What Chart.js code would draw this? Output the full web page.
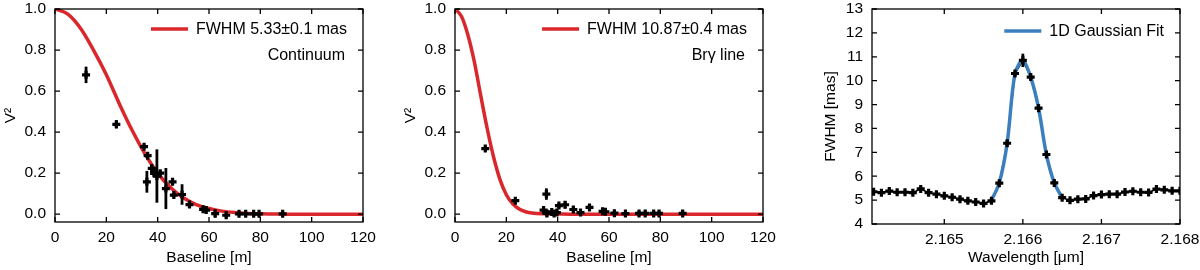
<!DOCTYPE html>
<html>
<head>
<meta charset="utf-8">
<script src="https://cdn.jsdelivr.net/npm/chart.js@4.4.1/dist/chart.umd.min.js"></script>
<style>
  body { margin: 0; background: #fff; width: 1200px; height: 270px; overflow: hidden; position: relative; }
  canvas { position: absolute; top: 0; }
</style>
</head>
<body>
<canvas id="c1" width="400" height="270" style="left:0"></canvas>
<canvas id="c2" width="400" height="270" style="left:400px"></canvas>
<canvas id="c3" width="400" height="270" style="left:800px"></canvas>
<script>
// Continuum visibilities
const contBaseline = [12.1, 23.9, 34.7, 36.1, 35.8, 37.7, 38.6, 39.7, 41.0, 43.2, 45.8, 46.3, 49.5, 52.4, 57.7, 58.9, 62.4, 66.7, 71.7, 74.3, 77.4, 79.5, 88.7];
const contV2 = [0.679, 0.438, 0.329, 0.285, 0.158, 0.223, 0.199, 0.186, 0.20, 0.125, 0.158, 0.093, 0.096, 0.047, 0.024, 0.02, 0.003, -0.005, 0.002, 0.002, 0.002, 0.002, 0.002];
const contErr = [0.04, 0.02, 0.01, 0.01, 0.053, 0.02, 0.015, 0.13, 0.01, 0.10, 0.01, 0.012, 0.05, 0.01, 0.01, 0.012, 0.02, 0.015, 0.01, 0.01, 0.01, 0.01, 0.012];

// Continuum model curve
const contFitB = [0, 5, 10, 15, 20, 25, 30, 35, 40, 45, 50, 55, 60, 65, 70, 75, 80, 85, 90, 100, 110, 120];
const contFitV2 = [1.0, 0.975, 0.905, 0.80, 0.68, 0.54, 0.41, 0.295, 0.20, 0.13, 0.08, 0.047, 0.028, 0.015, 0.008, 0.004, 0.002, 0.001, 0, 0, 0, 0];

// Br-gamma line visibilities
const brgBaseline = [11.8, 23.5, 34.5, 35.6, 35.8, 37.7, 38.6, 39.7, 40.5, 42.9, 46.1, 48.9, 52.4, 57.5, 58.6, 62.1, 66.4, 71.7, 74.1, 77.4, 79.5, 88.7];
const brgV2 = [0.320, 0.066, 0.02, 0.098, 0.004, 0.011, 0.004, 0.008, 0.042, 0.046, 0.023, 0.008, 0.033, 0.014, 0.012, 0.005, 0.003, 0.004, 0.004, 0.004, 0.004, 0.004];
const brgErr = [0.01, 0.008, 0.01, 0.028, 0.015, 0.01, 0.01, 0.012, 0.012, 0.018, 0.015, 0.012, 0.01, 0.01, 0.01, 0.015, 0.015, 0.012, 0.012, 0.012, 0.012, 0.015];

const brgFitB = [0, 2.5, 5, 7.5, 10, 12.5, 15, 17.5, 20, 22.5, 25, 27.5, 30, 35, 40, 45, 60, 80, 100, 120];
const brgFitV2 = [1.0, 0.965, 0.875, 0.745, 0.58, 0.42, 0.28, 0.17, 0.095, 0.05, 0.025, 0.012, 0.006, 0.002, 0.001, 0, 0, 0, 0, 0];

// FWHM vs wavelength
const wavelength = [2.1641, 2.1642, 2.1643, 2.1644, 2.1645, 2.1646, 2.1647, 2.1648, 2.1649, 2.1650,
  2.1651, 2.1652, 2.1653, 2.1654, 2.1655, 2.1656, 2.1657, 2.1658, 2.1659, 2.1660,
  2.1661, 2.1662, 2.1663, 2.1664, 2.1665, 2.1666, 2.1667, 2.1668, 2.1669, 2.1670,
  2.1671, 2.1672, 2.1673, 2.1674, 2.1675, 2.1676, 2.1677, 2.1678, 2.1679, 2.1680];
const fwhm = [5.35, 5.31, 5.38, 5.33, 5.33, 5.31, 5.47, 5.31, 5.25, 5.18,
  5.12, 5.04, 4.97, 4.92, 4.86, 4.97, 5.71, 7.38, 10.3, 10.85,
  10.15, 8.85, 6.91, 5.72, 5.10, 4.99, 5.04, 5.05, 5.19, 5.23,
  5.25, 5.25, 5.34, 5.37, 5.33, 5.32, 5.46, 5.43, 5.39, 5.39];
const fwhmErr = [0.08, 0.08, 0.08, 0.08, 0.08, 0.08, 0.08, 0.08, 0.08, 0.08,
  0.08, 0.08, 0.08, 0.08, 0.08, 0.08, 0.1, 0.12, 0.12, 0.28,
  0.12, 0.15, 0.1, 0.1, 0.08, 0.08, 0.08, 0.08, 0.08, 0.08,
  0.08, 0.08, 0.08, 0.08, 0.08, 0.08, 0.08, 0.08, 0.08, 0.08];

const gaussWave = [2.1656, 2.1657, 2.1658, 2.1659, 2.1660, 2.1661, 2.1662, 2.1663, 2.1664, 2.1665];
const gaussFwhm = [4.98, 5.72, 7.38, 10.3, 10.85, 10.15, 8.85, 6.9, 5.72, 5.1];

// tick labels
const baselineTicks = [0, 20, 40, 60, 80, 100, 120];
const v2Ticks = [0, 0.2, 0.4, 0.6, 0.8, 1.0];
const waveTicks = [2.165, 2.166, 2.167, 2.168];
const fwhmTicks = [4, 5, 6, 7, 8, 9, 10, 11, 12, 13];

const RED = '#d9272b';
const BLUE = '#3b7fbf';
const FONT = '"Liberation Sans", Arial, sans-serif';
const TICK_FONT = { family: FONT, size: 15.5 };
const TITLE_FONT = { family: FONT, size: 15.5 };

Chart.defaults.font.family = FONT;
Chart.defaults.color = '#000';

const pts = (xs, ys) => xs.map((x, i) => ({ x: x, y: ys[i] }));

// error bars from the yErr arrays
const errorBars = {
  id: 'errorBars',
  afterDatasetsDraw(chart) {
    const { ctx, chartArea: a } = chart;
    const y = chart.scales.y;
    chart.data.datasets.forEach((ds, i) => {
      if (!ds.yErr) return;
      const meta = chart.getDatasetMeta(i);
      ctx.save();
      ctx.beginPath();
      ctx.rect(a.left, a.top, a.right - a.left, a.bottom - a.top);
      ctx.clip();
      ctx.strokeStyle = '#000';
      ctx.lineWidth = 2.8;
      meta.data.forEach((p, j) => {
        const v = ds.data[j].y, e = ds.yErr[j];
        ctx.beginPath();
        ctx.moveTo(p.x, y.getPixelForValue(v - e));
        ctx.lineTo(p.x, y.getPixelForValue(v + e));
        ctx.stroke();
      });
      ctx.restore();
    });
  }
};

// box around the plot with inward ticks on all sides
const frame = {
  id: 'frame',
  afterDatasetsDraw(chart) {
    const { ctx, chartArea: a, scales: { x, y } } = chart;
    ctx.save();
    ctx.strokeStyle = '#000';
    ctx.lineWidth = 1.3;
    ctx.strokeRect(a.left, a.top, a.right - a.left, a.bottom - a.top);
    ctx.beginPath();
    x.ticks.forEach(t => {
      const px = x.getPixelForValue(t.value);
      ctx.moveTo(px, a.bottom); ctx.lineTo(px, a.bottom - 5);
      ctx.moveTo(px, a.top); ctx.lineTo(px, a.top + 5);
    });
    y.ticks.forEach(t => {
      const py = y.getPixelForValue(t.value);
      ctx.moveTo(a.left, py); ctx.lineTo(a.left + 5, py);
      ctx.moveTo(a.right, py); ctx.lineTo(a.right - 5, py);
    });
    ctx.stroke();
    ctx.restore();
  }
};

// legend drawn inside the plot, upper right
const insideLegend = {
  id: 'insideLegend',
  afterDraw(chart, args, opts) {
    if (!opts.label) return;
    const { ctx, chartArea: a } = chart;
    ctx.save();
    ctx.font = '16px ' + FONT;
    ctx.textBaseline = 'middle';
    ctx.textAlign = 'right';
    ctx.fillStyle = '#000';
    const right = a.right - 16;
    const ly = a.top + opts.dy;
    const tw = ctx.measureText(opts.label).width;
    ctx.fillText(opts.label, right, ly + 1);
    ctx.strokeStyle = opts.color;
    ctx.lineWidth = 3.5;
    ctx.beginPath();
    ctx.moveTo(right - tw - 8 - 37, ly);
    ctx.lineTo(right - tw - 8, ly);
    ctx.stroke();
    if (opts.note) ctx.fillText(opts.note, a.right - 18, a.top + 47);
    ctx.restore();
  }
};

function setTicks(list) {
  return s => { s.ticks = list.map(v => ({ value: v })); };
}

// fixed axis sizes, no extra room for label overflow
function fitY(w) {
  return s => { s.width = w; s.paddingTop = 0; s.paddingBottom = 0; };
}
function fitX(h) {
  return s => { s.height = h; s.paddingLeft = 0; s.paddingRight = 0; };
}

function visChart(id, xs, ys, errs, fitXs, fitYs, label, note) {
  return new Chart(document.getElementById(id), {
    type: 'scatter',
    data: {
      datasets: [
        {
          data: pts(xs, ys), yErr: errs, order: 1,
          pointStyle: 'cross', pointRadius: 4, pointBorderWidth: 3.2,
          borderColor: '#000', backgroundColor: '#000', showLine: false
        },
        {
          data: pts(fitXs, fitYs), order: 2, showLine: true,
          borderColor: RED, borderWidth: 3.5, pointRadius: 0,
          cubicInterpolationMode: 'monotone'
        }
      ]
    },
    options: {
      responsive: false, animation: false, events: [],
      layout: { padding: { left: 0, right: 37, top: 9, bottom: 0 } },
      plugins: {
        legend: { display: false }, tooltip: { enabled: false },
        insideLegend: { label: label, note: note, color: RED, dy: 20 }
      },
      scales: {
        x: {
          type: 'linear', min: 0, max: 120,
          grid: { display: false, drawTicks: false }, border: { display: false },
          afterBuildTicks: setTicks(baselineTicks),
          afterFit: fitX(48),
          ticks: { padding: 6, autoSkip: false, maxRotation: 0, font: TICK_FONT },
          title: { display: true, text: 'Baseline [m]', font: TITLE_FONT, padding: { top: 0, bottom: 3 } }
        },
        y: {
          type: 'linear', min: -0.038, max: 1.0,
          grid: { display: false, drawTicks: false }, border: { display: false },
          afterBuildTicks: setTicks(v2Ticks),
          afterFit: fitY(55),
          ticks: { padding: 9, autoSkip: false, font: TICK_FONT, callback: v => v.toFixed(1) },
          title: { display: true, text: 'V²', font: TITLE_FONT, padding: { top: 1, bottom: 0 } }
        }
      }
    },
    plugins: [errorBars, frame, insideLegend]
  });
}

visChart('c1', contBaseline, contV2, contErr, contFitB, contFitV2, 'FWHM 5.33±0.1 mas', 'Continuum');
visChart('c2', brgBaseline, brgV2, brgErr, brgFitB, brgFitV2, 'FWHM 10.87±0.4 mas', 'Brγ line');

new Chart(document.getElementById('c3'), {
  type: 'scatter',
  data: {
    datasets: [
      {
        data: pts(wavelength, fwhm), yErr: fwhmErr, order: 1,
        pointStyle: 'cross', pointRadius: 4, pointBorderWidth: 3.2,
        borderColor: '#000', backgroundColor: '#000', showLine: false
      },
      {
        data: pts(gaussWave, gaussFwhm), order: 2, showLine: true,
        borderColor: BLUE, borderWidth: 3.5, pointRadius: 0, tension: 0.3
      },
      {
        data: pts(wavelength, fwhm), order: 3, showLine: true,
        borderColor: '#000', borderWidth: 1.5, pointRadius: 0
      }
    ]
  },
  options: {
    responsive: false, animation: false, events: [],
    layout: { padding: { left: 21, right: 20, top: 9, bottom: 0 } },
    plugins: {
      legend: { display: false }, tooltip: { enabled: false },
      insideLegend: { label: '1D Gaussian Fit', color: BLUE, dy: 22 }
    },
    scales: {
      x: {
        type: 'linear', min: 2.16408, max: 2.168,
        grid: { display: false, drawTicks: false }, border: { display: false },
        afterBuildTicks: setTicks(waveTicks),
        afterFit: fitX(46),
        ticks: { padding: 6, autoSkip: false, maxRotation: 0, font: TICK_FONT, callback: v => v.toFixed(3) },
        title: { display: true, text: 'Wavelength [μm]', font: TITLE_FONT, padding: { top: 0, bottom: 3 } }
      },
      y: {
        type: 'linear', min: 4, max: 13,
        grid: { display: false, drawTicks: false }, border: { display: false },
        afterBuildTicks: setTicks(fwhmTicks),
        afterFit: fitY(51),
        ticks: { padding: 9, autoSkip: false, font: TICK_FONT },
        title: { display: true, text: 'FWHM [mas]', font: TITLE_FONT, padding: { top: 0, bottom: 0 } }
      }
    }
  },
  plugins: [errorBars, frame, insideLegend]
});
</script>
</body>
</html>
